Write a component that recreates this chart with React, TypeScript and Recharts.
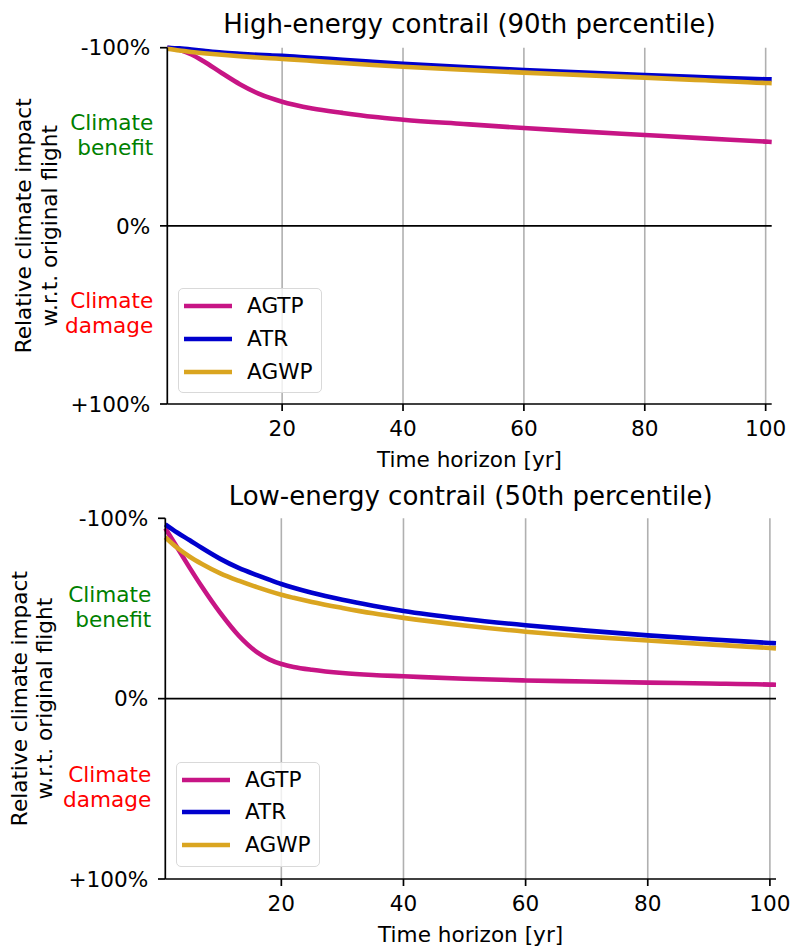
import React from 'react';
import { LineChart, Line, XAxis, YAxis, ReferenceLine, Legend } from 'recharts';

const FONT = '"DejaVu Sans", "Liberation Sans", sans-serif';
const FS = 21.6;

// Time horizon [yr]
const years = [1, 3, 5, 7, 10, 13, 16, 18, 20, 22, 25, 30, 35, 40, 50, 60, 70, 80, 90, 100, 101];

// High-energy contrail (90th percentile) — relative climate impact [%] (negative = benefit)
const highAGTP = [-100, -98.8, -96.2, -92.4, -85.8, -79.5, -74.4, -71.8, -69.7, -68, -65.9, -63.4, -61.2, -59.6, -57.2, -54.9, -52.9, -51, -49.1, -47.3, -47.1];
const highATR = [-100, -99.6, -99, -98.3, -97.3, -96.6, -96, -95.7, -95.4, -95, -94.4, -93.2, -92.1, -91, -89.1, -87.5, -86, -84.6, -83.4, -82.3, -82.2];
const highAGWP = [-99.4, -98.4, -97.6, -96.9, -96, -95.2, -94.5, -94.1, -93.7, -93.3, -92.6, -91.4, -90.3, -89.3, -87.6, -86, -84.6, -83.2, -81.7, -80.2, -80.1];

// Low-energy contrail (50th percentile)
const lowAGTP = [-94.5, -83.5, -72.5, -62, -47.5, -35, -25.8, -21.8, -19.2, -17.6, -16, -14.2, -13.1, -12.4, -11, -10.1, -9.5, -8.9, -8.4, -7.8, -7.7];
const lowATR = [-96.7, -92, -87.8, -83.5, -77.5, -72.5, -68.5, -66, -63.6, -61.5, -58.7, -54.8, -51.5, -48.6, -44.2, -40.7, -37.7, -35.1, -32.9, -30.9, -30.7];
const lowAGWP = [-89.5, -83.5, -78.7, -74.7, -69.5, -65.4, -61.8, -59.6, -57.6, -55.9, -53.6, -50.3, -47.3, -44.8, -40.6, -37.1, -34.4, -32.2, -30.1, -28.1, -27.9];

const xTicks = [20, 40, 60, 80, 100];
const yTicks = [-100, -50, 0, 50, 100];
const yTickLabels: Record<number, string> = { [-100]: '-100%', 0: '0%', 100: '+100%' };
const benefitLines = ['Climate', 'benefit'];
const damageLines = ['Climate', 'damage'];

const seriesNames = ['AGTP', 'ATR', 'AGWP'];
const seriesColors = ['#C71585', '#0000CD', '#DAA520'];

const titles = ['High-energy contrail (90th percentile)', 'Low-energy contrail (50th percentile)'];
const yLabelLines = ['Relative climate impact', 'w.r.t. original flight'];
const xLabel = 'Time horizon [yr]';

function buildRows(a: number[], b: number[], c: number[]) {
  return years.map((t, i) => ({ t, AGTP: a[i], ATR: b[i], AGWP: c[i] }));
}

const panels = [
  {
    rows: buildRows(highAGTP, highATR, highAGWP),
    title: titles[0],
    top: 0,
    height: 474,
    margin: { top: 47.7, right: 20.3, bottom: 0, left: 7.3 },
    legend: { left: 178, top: 288.3 },
    titleY: 33.3,
    yl1: 31.5,
    yl2: 57,
  },
  {
    rows: buildRows(lowAGTP, lowATR, lowAGWP),
    title: titles[1],
    top: 474,
    height: 475,
    margin: { top: 44.3, right: 16, bottom: 0, left: 5.3 },
    legend: { left: 176, top: 287.7 },
    titleY: 31,
    yl1: 27,
    yl2: 52.5,
  },
];

const YTick = (props: any) => {
  const { x, y, payload } = props;
  const v = payload.value;
  if (v === -50 || v === 50) {
    const lines = v < 0 ? benefitLines : damageLines;
    const color = v < 0 ? '#008000' : '#FF0000';
    return (
      <text x={x - 14} y={y} textAnchor="end" fill={color} fontSize={FS} fontFamily={FONT}>
        <tspan x={x - 14} dy={-6.9}>{lines[0]}</tspan>
        <tspan x={x - 14} dy={25}>{lines[1]}</tspan>
      </text>
    );
  }
  return (
    <g>
      <line x1={x - 7.3} x2={x} y1={y} y2={y} stroke="#000" strokeWidth={1.7} />
      <text x={x - 17} y={y} dy="0.36em" textAnchor="end" fill="#000" fontSize={FS} fontFamily={FONT}>
        {yTickLabels[v]}
      </text>
    </g>
  );
};

const LegendBox = (props: any) => {
  const payload = (props.payload || []).slice().sort(
    (a: any, b: any) => seriesNames.indexOf(a.value) - seriesNames.indexOf(b.value)
  );
  return (
    <div
      style={{
        width: 144,
        height: 105,
        boxSizing: 'border-box',
        border: '1.5px solid #d9d9d9',
        borderRadius: 5,
        background: 'rgba(255,255,255,0.8)',
        position: 'relative',
      }}
    >
      {payload.map((p: any, i: number) => (
        <div
          key={p.value}
          style={{
            position: 'absolute',
            left: 5,
            top: 18.4 + i * 32.7 - 12 - 1.5,
            height: 24,
            display: 'flex',
            alignItems: 'center',
            whiteSpace: 'nowrap',
          }}
        >
          <svg width={48} height={6} style={{ display: 'block' }}>
            <line x1={0} x2={48} y1={3} y2={3} stroke={p.color} strokeWidth={4.6} />
          </svg>
          <span style={{ marginLeft: 15, fontSize: FS, fontFamily: FONT, color: '#000', lineHeight: '24px' }}>
            {p.value}
          </span>
        </div>
      ))}
    </div>
  );
};

function Panel({ cfg }: { cfg: (typeof panels)[number] }) {
  const plotLeft = cfg.margin.left + 160;
  const plotRight = 792 - cfg.margin.right;
  const cx = (plotLeft + plotRight) / 2;
  const plotTop = cfg.margin.top;
  const plotBottom = cfg.height - 70;
  const cy = (plotTop + plotBottom) / 2;
  return (
    <div style={{ position: 'absolute', left: 0, top: cfg.top, width: 792, height: cfg.height }}>
      <LineChart width={792} height={cfg.height} data={cfg.rows} margin={cfg.margin}>
        <XAxis
          dataKey="t"
          type="number"
          domain={[1, 101]}
          ticks={xTicks}
          interval={0}
          height={70}
          tickSize={7}
          tickMargin={10}
          axisLine={{ stroke: '#000', strokeWidth: 1.7 }}
          tickLine={{ stroke: '#000', strokeWidth: 1.7 }}
          tick={{ fill: '#000', fontSize: FS, fontFamily: FONT }}
          label={{ value: xLabel, position: 'insideBottom', offset: 7.3, fill: '#000', fontSize: FS, fontFamily: FONT }}
        />
        <YAxis
          type="number"
          domain={[-100, 100]}
          reversed
          ticks={yTicks}
          interval={0}
          width={160}
          tickSize={0}
          tickMargin={0}
          tickLine={false}
          axisLine={{ stroke: '#000', strokeWidth: 1.7 }}
          tick={<YTick />}
        />
        {xTicks.map((t) => (
          <ReferenceLine key={`g${t}`} x={t} stroke="#b0b0b0" strokeWidth={1.6} />
        ))}
        <ReferenceLine y={0} stroke="#000" strokeWidth={1.7} />
        {seriesNames.map((name, i) => (
          <Line
            key={name}
            dataKey={name}
            name={name}
            type="monotone"
            stroke={seriesColors[i]}
            strokeWidth={4.6}
            dot={false}
            activeDot={false}
            isAnimationActive={false}
          />
        ))}
        <Legend
          layout="vertical"
          align="center"
          verticalAlign="middle"
          content={<LegendBox />}
          wrapperStyle={{ left: cfg.legend.left, top: cfg.legend.top, width: 144, height: 105 }}
        />
      </LineChart>
      <svg
        width={792}
        height={cfg.height}
        style={{ position: 'absolute', left: 0, top: 0, pointerEvents: 'none' }}
      >
        <text x={cx} y={cfg.titleY} textAnchor="middle" fontSize={26} fontFamily={FONT} fill="#000">
          {cfg.title}
        </text>
        <text
          x={cfg.yl1}
          y={cy}
          transform={`rotate(-90, ${cfg.yl1}, ${cy})`}
          textAnchor="middle"
          fontSize={FS}
          fontFamily={FONT}
          fill="#000"
        >
          {yLabelLines[0]}
        </text>
        <text
          x={cfg.yl2}
          y={cy}
          transform={`rotate(-90, ${cfg.yl2}, ${cy})`}
          textAnchor="middle"
          fontSize={FS}
          fontFamily={FONT}
          fill="#000"
        >
          {yLabelLines[1]}
        </text>
      </svg>
    </div>
  );
}

export default function App() {
  return (
    <div style={{ position: 'absolute', left: 0, top: 0, width: 792, height: 949, background: '#fff' }}>
      {panels.map((p) => (
        <Panel key={p.title} cfg={p} />
      ))}
    </div>
  );
}
